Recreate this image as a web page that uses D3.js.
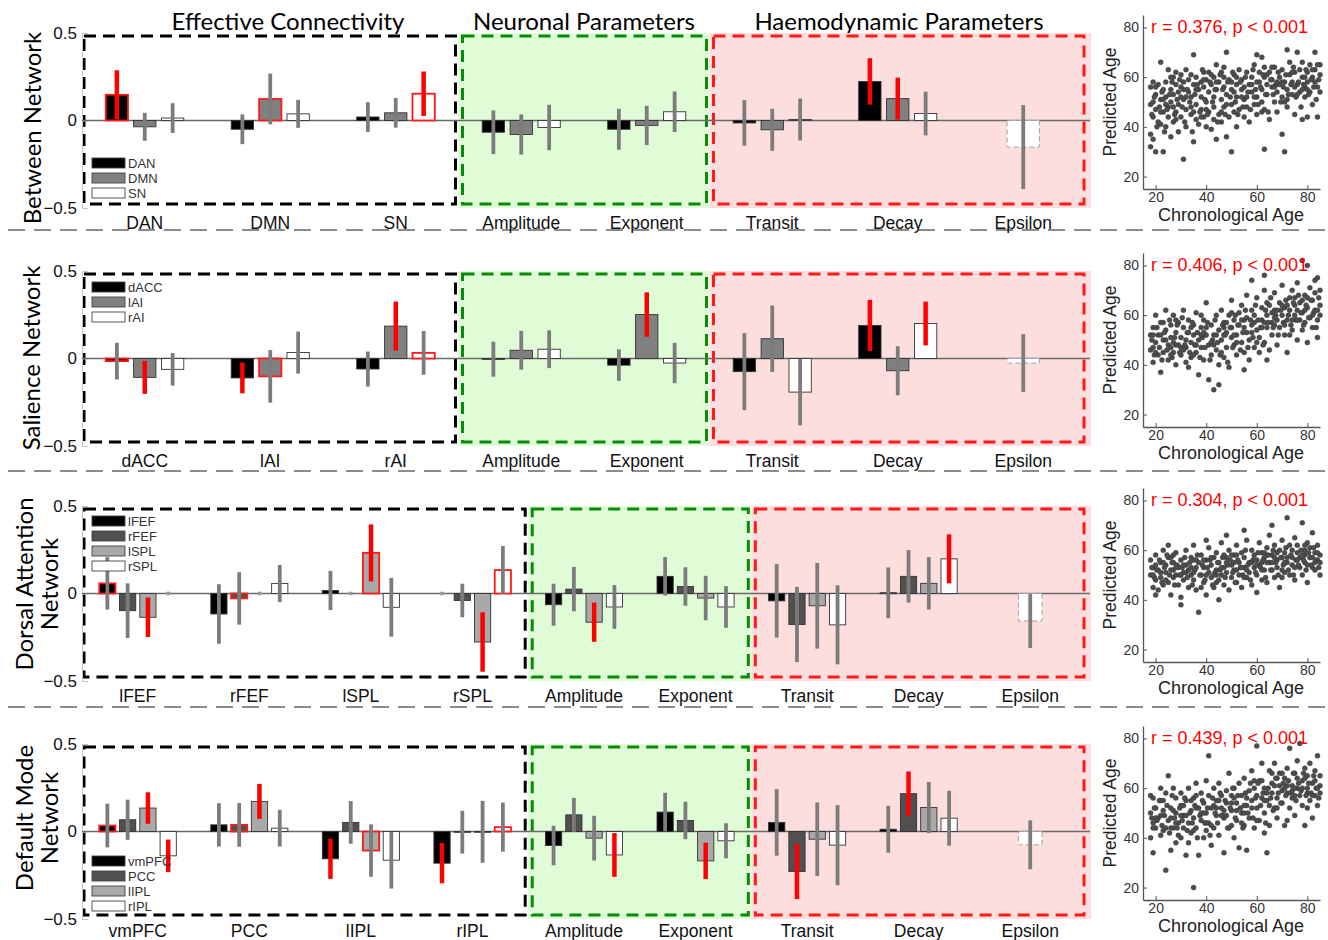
<!DOCTYPE html>
<html>
<head>
<meta charset="utf-8">
<script src="https://cdn.jsdelivr.net/npm/d3@7"></script>
<style>
body { margin: 0; background: #fff; }
svg { display: block; }
</style>
</head>
<body>
<svg id="fig" width="1328" height="940"></svg>
<script>
// ---------- data ----------
const paramGroups = ["Amplitude", "Exponent", "Transit", "Decay", "Epsilon"];

// sig codes: 1 = red outline on bar, 2 = red error bar, 3 = both
const betweenSeries = ["DAN", "DMN", "SN"];
const betweenVals = [
  [0.147, -0.036, 0.014], [-0.05, 0.123, 0.038], [0.02, 0.044, 0.153],
  [-0.067, -0.08, -0.04], [-0.05, -0.028, 0.05], [-0.014, -0.053, 0.006],
  [0.223, 0.125, 0.04], [null, null, -0.152]
];
const betweenErr = [
  [0.14, 0.08, 0.085], [0.085, 0.145, 0.08], [0.085, 0.085, 0.127],
  [0.125, 0.115, 0.13], [0.117, 0.112, 0.116], [0.13, 0.12, 0.12],
  [0.133, 0.12, 0.125], [null, null, 0.24]
];
const betweenSig = [[3,0,0],[0,1,0],[0,0,3],[0,0,0],[0,0,0],[0,0,0],[2,2,0],[0,0,0]];

const salSeries = ["dACC", "lAI", "rAI"];
const salVals = [
  [-0.015, -0.108, -0.062], [-0.111, -0.102, 0.034], [-0.06, 0.185, 0.032],
  [-0.004, 0.047, 0.053], [-0.038, 0.251, -0.026], [-0.075, 0.113, -0.192],
  [0.189, -0.07, 0.2], [null, null, -0.026]
];
const salErr = [
  [0.105, 0.094, 0.093], [0.088, 0.15, 0.12], [0.1, 0.14, 0.125],
  [0.1, 0.111, 0.108], [0.09, 0.127, 0.115], [0.22, 0.19, 0.19],
  [0.146, 0.14, 0.125], [null, null, 0.165]
];
const salSig = [[1,2,0],[2,1,0],[0,2,1],[0,0,0],[0,2,0],[0,0,0],[2,0,2],[0,0,0]];

const datSeries = ["lFEF", "rFEF", "lSPL", "rSPL"];
const datVals = [
  [0.058, -0.098, -0.136, 0], [-0.117, -0.028, 0, 0.057],
  [0.017, 0, 0.232, -0.079], [0, -0.04, -0.277, 0.134],
  [-0.064, 0.025, -0.164, -0.077], [0.098, 0.04, -0.026, -0.077],
  [-0.042, -0.177, -0.07, -0.179], [0.004, 0.098, 0.058, 0.198],
  [null, null, null, -0.157]
];
const datErr = [
  [0.15, 0.156, 0.113, 0], [0.17, 0.15, 0, 0.106],
  [0.112, 0, 0.163, 0.168], [0, 0.096, 0.17, 0.137],
  [0.12, 0.127, 0.112, 0.125], [0.11, 0.11, 0.127, 0.119],
  [0.21, 0.215, 0.245, 0.226], [0.145, 0.15, 0.15, 0.14],
  [null, null, null, 0.155]
];
const datSig = [[1,0,2,0],[0,1,0,0],[0,0,3,0],[0,0,2,1],[0,0,2,0],[0,0,0,0],[0,0,0,0],[0,0,0,2],[0,0,0,0]];

const dmnSeries = ["vmPFC", "PCC", "lIPL", "rIPL"];
const dmnVals = [
  [0.034, 0.067, 0.134, -0.139], [0.038, 0.038, 0.172, 0.019],
  [-0.156, 0.052, -0.109, -0.164], [-0.181, -0.004, -0.002, 0.025],
  [-0.08, 0.095, -0.038, -0.134], [0.111, 0.063, -0.168, -0.053],
  [0.052, -0.229, -0.044, -0.078], [0.013, 0.216, 0.137, 0.076],
  [null, null, null, -0.076]
];
const dmnErr = [
  [0.125, 0.115, 0.09, 0.093], [0.124, 0.125, 0.1, 0.105],
  [0.115, 0.122, 0.15, 0.162], [0.115, 0.122, 0.177, 0.14],
  [0.113, 0.097, 0.128, 0.125], [0.11, 0.107, 0.104, 0.1],
  [0.19, 0.157, 0.21, 0.229], [0.134, 0.127, 0.146, 0.157],
  [null, null, null, 0.14]
];
const dmnSig = [[1,0,2,2],[0,1,2,0],[2,0,1,0],[2,0,0,1],[0,0,0,2],[0,0,2,0],[0,2,0,0],[0,2,0,0],[0,0,0,0]];

const rLabels = ["r = 0.376, p < 0.001", "r = 0.406, p < 0.001", "r = 0.304, p < 0.001", "r = 0.439, p < 0.001"];

// chronological age vs predicted age
const agePts1 = [[18,49],[18,56],[18,37],[18,32],[19,44],[19,50],[19,35],[20,30],[20,53],[20,47],[21,42],[21,57],[22,66],[22,41],[22,51],[23,30],[23,55],[23,46],[24,40],[24,58],[24,52],[25,63],[25,48],[25,44],[26,55],[26,36],[26,50],[27,60],[27,42],[27,53],[28,57],[28,46],[28,62],[29,38],[29,54],[29,49],[30,61],[30,44],[30,56],[31,27],[31,51],[31,58],[32,47],[32,63],[32,40],[33,54],[33,59],[34,45],[34,52],[34,61],[35,69],[35,34],[35,57],[36,49],[36,43],[36,60],[37,55],[37,41],[38,58],[38,47],[38,52],[39,62],[39,44],[39,56],[40,50],[40,59],[40,40],[41,54],[41,46],[41,62],[42,57],[42,39],[43,52],[43,60],[43,48],[44,35],[44,65],[44,55],[45,45],[45,58],[46,51],[46,62],[46,42],[47,56],[47,48],[47,64],[48,36],[48,70],[48,53],[49,44],[49,59],[50,30],[50,55],[50,49],[51,61],[51,46],[52,57],[52,52],[52,40],[53,63],[53,47],[54,55],[54,59],[55,44],[55,51],[56,62],[56,48],[57,57],[57,42],[58,54],[58,60],[59,49],[59,65],[60,69],[60,52],[60,45],[61,58],[61,62],[62,68],[62,50],[62,55],[63,31],[63,60],[63,47],[64,57],[64,53],[65,62],[65,43],[66,56],[66,59],[67,50],[67,64],[68,54],[68,46],[69,60],[69,57],[70,37],[70,52],[70,63],[71,30],[71,58],[72,71],[72,55],[72,48],[73,61],[73,66],[74,53],[74,58],[75,62],[75,45],[76,70],[76,57],[77,54],[77,63],[78,43],[78,60],[78,66],[79,56],[79,52],[80,62],[80,44],[80,58],[81,65],[81,54],[82,60],[82,49],[83,70],[83,63],[84,56],[84,44],[85,61],[85,65],
  [18.5,45],[19.5,52],[20.5,40],[21.5,48],[22.5,54],[23.5,38],[24.5,47],[25.5,53],[26.5,58],[27.5,45],[28.5,51],[29.5,59],[30.5,48],[31.5,42],[32.5,55],[33.5,50],[34.5,38],[35.5,53],[36.5,57],[37.5,46],[38.5,63],[39.5,51],[40.5,45],[41.5,58],[42.5,50],[43.5,55],[44.5,42],[45.5,61],[46.5,55],[47.5,45],[48.5,58],[49.5,52],[50.5,62],[51.5,50],[52.5,45],[53.5,58],[54.5,48],[55.5,60],[56.5,54],[57.5,47],[58.5,63],[59.5,55],[60.5,49],[61.5,56],[62.5,61],[63.5,53],[64.5,46],[65.5,59],[66.5,53],[67.5,57],[68.5,62],[69.5,50],[70.5,56],[71.5,61],[72.5,53],[73.5,57],[74.5,64],[75.5,52],[76.5,58],[77.5,48],[78.5,57],[79.5,63],[80.5,53],[81.5,59],[82.5,56],[83.5,51],[84.5,59],[20,56],[24,49],[28,43],[32,52],[36,55],[40,47],[44,58],[48,49],[52,60],[56,52],[60,58],[64,61],[68,58],[72,51],[76,53],[80,55],[84,65],[22,46],[26,60],[30,52],[34,48],[38,44],[42,61],[46,46],[50,58],[54,52],[58,57],[62,46],[66,64],[70,58],[74,62],[78,55],[82,63],[19,58],[23,51],[27,48],[31,55],[35,46],[39,59],[43,43],[47,60],[51,54],[55,56],[59,52],[63,64],[67,56],[71,50],[75,56],[79,60],[83,58],[85,54]];
const agePts2 = [[18,52],[18,46],[19,41],[19,55],[20,49],[20,60],[21,44],[21,52],[22,37],[22,57],[23,50],[23,45],[24,54],[24,62],[25,42],[25,48],[26,56],[26,51],[27,45],[27,60],[28,53],[28,40],[29,48],[29,57],[30,51],[30,44],[31,55],[31,62],[32,47],[32,41],[33,53],[33,58],[34,49],[34,43],[35,56],[35,52],[36,45],[36,61],[37,36],[37,50],[38,55],[38,47],[39,42],[39,58],[40,52],[40,65],[41,34],[41,48],[42,56],[42,44],[43,30],[43,52],[44,60],[44,46],[45,32],[45,54],[46,50],[46,62],[47,43],[47,57],[48,53],[48,47],[49,60],[49,39],[50,55],[50,66],[51,48],[51,58],[52,44],[52,52],[53,61],[53,56],[54,49],[54,64],[55,45],[55,58],[56,53],[56,68],[57,50],[57,42],[58,62],[58,56],[59,47],[59,60],[60,54],[60,67],[61,51],[61,45],[62,63],[62,58],[63,49],[63,70],[64,55],[64,60],[65,46],[65,64],[66,57],[66,52],[67,62],[67,69],[68,48],[68,58],[69,65],[69,55],[70,60],[70,72],[71,52],[71,63],[72,58],[72,45],[73,67],[73,62],[74,54],[74,70],[75,60],[75,64],[76,50],[76,73],[77,58],[77,65],[78,82],[78,61],[78,54],[79,68],[79,57],[80,80],[80,63],[80,49],[81,71],[81,59],[82,66],[82,55],[83,74],[83,62],[84,75],[84,58],[85,64],[85,70],[19,47],[26,47],[33,39],[45,40],[55,38],[64,42],[73,52],[84,51],[58,74],[63,76],[50,61],[38,60],[28,48],[47,52],[67,56],[76,62],
  [18.5,50],[19.5,44],[20.5,55],[21.5,47],[22.5,42],[23.5,53],[24.5,46],[25.5,58],[26.5,43],[27.5,51],[28.5,56],[29.5,45],[30.5,59],[31.5,48],[32.5,53],[33.5,45],[34.5,57],[35.5,48],[36.5,53],[37.5,43],[38.5,51],[39.5,47],[40.5,57],[41.5,42],[42.5,50],[43.5,58],[44.5,49],[45.5,44],[46.5,56],[47.5,52],[48.5,41],[49.5,55],[50.5,47],[51.5,60],[52.5,56],[53.5,46],[54.5,53],[55.5,62],[56.5,47],[57.5,58],[58.5,51],[59.5,64],[60.5,58],[61.5,55],[62.5,48],[63.5,62],[64.5,57],[65.5,67],[66.5,55],[67.5,60],[68.5,52],[69.5,62],[70.5,57],[71.5,66],[72.5,60],[73.5,56],[74.5,65],[75.5,58],[76.5,68],[77.5,61],[78.5,56],[79.5,64],[80.5,59],[81.5,66],[82.5,61],[83.5,55],[84.5,67],[20,45],[24,50],[28,58],[32,50],[36,48],[40,55],[44,52],[48,57],[52,49],[56,59],[60,49],[64,65],[68,62],[72,64],[76,58],[80,67],[84,62],[22,52],[26,44],[30,47],[34,55],[38,52],[42,49],[46,45],[50,51],[54,58],[58,53],[62,55],[66,61],[70,64],[74,58],[78,66],[82,60],[19,52],[23,57],[27,49],[31,46],[35,44],[39,53],[43,48],[47,55],[51,52],[55,55],[59,57],[63,57],[67,59],[71,56],[75,67],[79,62],[83,69],[85,60]];
const agePts3 = [[18,50],[18,56],[19,45],[19,53],[20,58],[20,48],[21,52],[21,44],[22,55],[22,49],[23,60],[23,46],[24,51],[24,54],[25,47],[25,57],[26,52],[26,42],[27,55],[27,49],[28,50],[28,59],[29,46],[29,53],[30,56],[30,41],[31,51],[31,48],[32,54],[32,60],[33,45],[33,52],[34,57],[34,50],[35,48],[35,62],[36,53],[36,44],[37,35],[37,55],[38,50],[38,58],[39,47],[39,53],[40,56],[40,42],[41,51],[41,61],[42,49],[42,54],[43,57],[43,45],[44,52],[44,59],[45,48],[45,55],[46,63],[46,50],[47,53],[47,46],[48,57],[48,51],[49,44],[49,60],[50,54],[50,49],[51,58],[51,52],[52,47],[52,62],[53,55],[53,50],[54,59],[54,45],[55,53],[55,57],[56,49],[56,64],[57,55],[57,51],[58,60],[58,46],[59,53],[59,58],[60,56],[60,50],[61,63],[61,54],[62,48],[62,59],[63,57],[63,52],[64,61],[64,47],[65,55],[65,66],[66,52],[66,58],[67,49],[67,62],[68,56],[68,53],[69,60],[69,45],[70,57],[70,64],[71,51],[71,59],[72,55],[72,73],[73,62],[73,50],[74,57],[74,54],[75,65],[75,48],[76,59],[76,62],[77,53],[77,57],[78,71],[78,50],[79,60],[79,55],[80,63],[80,47],[81,57],[81,61],[82,53],[82,67],[83,59],[83,52],[84,62],[84,56],[85,58],[85,50],[30,38],[45,40],[60,43],[48,66],[55,68],[40,64],[25,62],[66,70],[20,42],[35,56],[27,52],[44,50],[52,52],[62,55],[70,52],[79,58],
  [18.5,53],[19.5,49],[20.5,52],[21.5,56],[22.5,47],[23.5,53],[24.5,58],[25.5,50],[26.5,55],[27.5,46],[28.5,54],[29.5,50],[30.5,53],[31.5,57],[32.5,49],[33.5,55],[34.5,46],[35.5,52],[36.5,58],[37.5,50],[38.5,54],[39.5,48],[40.5,53],[41.5,56],[42.5,46],[43.5,51],[44.5,55],[45.5,52],[46.5,57],[47.5,49],[48.5,54],[49.5,56],[50.5,51],[51.5,47],[52.5,56],[53.5,53],[54.5,50],[55.5,60],[56.5,54],[57.5,48],[58.5,56],[59.5,51],[60.5,59],[61.5,53],[62.5,56],[63.5,49],[64.5,58],[65.5,52],[66.5,60],[67.5,55],[68.5,50],[69.5,57],[70.5,54],[71.5,61],[72.5,52],[73.5,58],[74.5,50],[75.5,56],[76.5,54],[77.5,60],[78.5,56],[79.5,52],[80.5,59],[81.5,54],[82.5,61],[83.5,56],[84.5,53],[20,54],[24,48],[28,53],[32,51],[36,56],[40,50],[44,47],[48,55],[52,58],[56,52],[60,54],[64,55],[68,59],[72,57],[76,56],[80,54],[84,59],[22,51],[26,57],[30,50],[34,53],[38,45],[42,57],[46,53],[50,58],[54,53],[58,55],[62,52],[66,55],[70,49],[74,60],[78,58],[82,57],[19,50],[23,55],[27,58],[31,54],[35,51],[39,56],[43,50],[47,58],[51,55],[55,49],[59,56],[63,59],[67,57],[71,55],[75,53],[79,62],[83,55],[85,55]];
const agePts4 = [[18,57],[18,50],[18,40],[19,46],[19,34],[19,56],[20,52],[20,44],[21,48],[22,41],[22,55],[23,43],[23,51],[24,27],[24,58],[25,65],[25,47],[26,35],[26,52],[27,44],[27,60],[28,38],[28,50],[28,56],[29,46],[29,41],[30,53],[30,58],[31,44],[31,49],[32,33],[32,55],[33,60],[33,46],[34,51],[34,42],[35,20],[35,56],[35,48],[36,44],[36,62],[37,33],[37,52],[38,47],[38,58],[39,40],[39,54],[40,50],[40,63],[41,73],[41,46],[41,57],[42,37],[42,52],[43,60],[43,44],[44,55],[44,49],[45,41],[45,62],[46,52],[46,57],[47,34],[47,48],[48,59],[48,54],[49,44],[49,66],[50,51],[50,57],[51,40],[51,60],[52,54],[52,47],[53,62],[53,36],[54,50],[54,57],[55,45],[55,64],[56,53],[56,35],[57,59],[57,48],[58,67],[58,55],[59,44],[59,60],[60,77],[60,52],[60,57],[61,63],[61,47],[62,56],[62,70],[63,50],[63,60],[64,34],[64,55],[65,67],[65,45],[66,58],[66,62],[67,52],[67,70],[68,56],[68,48],[69,61],[69,66],[70,54],[70,59],[71,45],[71,64],[72,58],[72,68],[73,76],[73,52],[74,61],[74,56],[75,66],[75,49],[76,60],[76,71],[77,78],[77,57],[78,63],[78,53],[79,68],[79,45],[80,60],[80,65],[81,55],[81,70],[82,62],[82,48],[83,57],[83,67],[84,73],[84,53],[85,61],[85,65],[30,40],[40,43],[50,45],[63,42],[72,47],[26,48],[36,52],[45,55],[55,50],[65,53],[75,57],[22,60],[33,38],[68,64],[80,58],
  [18.5,48],[19.5,52],[20.5,47],[21.5,55],[22.5,45],[23.5,49],[24.5,53],[25.5,42],[26.5,57],[27.5,48],[28.5,44],[29.5,52],[30.5,47],[31.5,56],[32.5,43],[33.5,50],[34.5,46],[35.5,53],[36.5,40],[37.5,49],[38.5,55],[39.5,46],[40.5,52],[41.5,41],[42.5,56],[43.5,50],[44.5,46],[45.5,58],[46.5,49],[47.5,55],[48.5,44],[49.5,52],[50.5,60],[51.5,48],[52.5,57],[53.5,52],[54.5,44],[55.5,58],[56.5,50],[57.5,62],[58.5,48],[59.5,56],[60.5,62],[61.5,53],[62.5,58],[63.5,46],[64.5,60],[65.5,56],[66.5,51],[67.5,64],[68.5,58],[69.5,54],[70.5,62],[71.5,57],[72.5,63],[73.5,58],[74.5,66],[75.5,55],[76.5,62],[77.5,59],[78.5,66],[79.5,57],[80.5,62],[81.5,58],[82.5,65],[83.5,60],[84.5,56],[20,48],[24,44],[28,46],[32,49],[36,57],[40,46],[44,52],[48,49],[52,51],[56,56],[60,47],[64,58],[68,52],[72,61],[76,64],[80,52],[84,60],[22,49],[26,44],[30,49],[34,55],[38,50],[42,45],[46,49],[50,54],[54,46],[58,52],[62,63],[66,66],[70,66],[74,59],[78,60],[82,57],[19,44],[23,55],[27,51],[31,53],[35,43],[39,50],[43,53],[47,51],[51,56],[55,53],[59,63],[63,55],[67,61],[71,60],[75,60],[79,64],[83,63],[85,58]];

// ---------- layout ----------
let svg = d3.select("#fig");
let axisLeft = 82, axisRight = 1086, rowH = 175;
let rowTop = [33, 271, 506, 744];
let sepY = [230, 471, 707];
let shades3 = ["#000000", "#808080", "#ffffff"];
let shades4 = ["#000000", "#505050", "#a9a9a9", "#ffffff"];
let labelFont = "'Liberation Sans', Arial, sans-serif";
let titleFont = "Lato, 'Open Sans', sans-serif";

let rows = [
  {series: betweenSeries, vals: betweenVals, err: betweenErr, sig: betweenSig, colors: shades3,
   title: ["Between Network"], titleX: [41], titleY: 128, legendY: 125, pts: agePts1},
  {series: salSeries, vals: salVals, err: salErr, sig: salSig, colors: shades3,
   title: ["Salience Network"], titleX: [40], titleY: 358, legendY: 11, pts: agePts2},
  {series: datSeries, vals: datVals, err: datErr, sig: datSig, colors: shades4,
   title: ["Dorsal Attention", "Network"], titleX: [33, 58], titleY: 584, legendY: 10, pts: agePts3},
  {series: dmnSeries, vals: dmnVals, err: dmnErr, sig: dmnSig, colors: shades4,
   title: ["Default Mode", "Network"], titleX: [33, 58], titleY: 818, legendY: 112, pts: agePts4}
];

//column titles
let colTitles = [["Effective Connectivity", 288], ["Neuronal Parameters", 584], ["Haemodynamic Parameters", 899]];
svg.selectAll(".coltitle").data(colTitles).join("text")
  .attr("x", d => d[1]).attr("y", 30)
  .attr("text-anchor", "middle")
  .style("font-family", titleFont).style("font-size", "24px")
  .text(d => d[0]);

//row separators
svg.selectAll(".sep").data(sepY).join("line")
  .attr("x1", 8).attr("x2", 1328).attr("y1", d => d).attr("y2", d => d)
  .attr("stroke", "#8c8c8c").attr("stroke-width", 2).attr("stroke-dasharray", "17,9");

function drawRow(row, ri) {
  let top = rowTop[ri];
  let g = svg.append("g");
  let groups = row.series.concat(paramGroups);
  let n = row.series.length;

  let y = d3.scaleLinear([-0.5, 0.5], [top + rowH, top]);
  let x0 = d3.scaleBand(groups, [axisLeft, axisRight]);
  let gw = x0.bandwidth() * Math.min(0.8, n / (n + 1.5));
  let x1 = d3.scaleBand(row.series, [-gw / 2, gw / 2]).paddingInner(0.2).paddingOuter(0.1);

  let ecEnd = x0(paramGroups[0]);
  let neuroEnd = x0(paramGroups[2]);

  //shaded regions
  g.append("rect").attr("x", ecEnd).attr("y", top).attr("width", neuroEnd - ecEnd).attr("height", rowH)
    .attr("fill", "#dffcd6");
  g.append("rect").attr("x", neuroEnd).attr("y", top).attr("width", axisRight + 5 - neuroEnd).attr("height", rowH)
    .attr("fill", "#fddede");

  //dashed boxes
  let boxes = [
    [axisLeft + 2, ecEnd - 3, "#000000"],
    [ecEnd + 4, neuroEnd - 3, "#0a8a0a"],
    [neuroEnd + 4, axisRight - 2, "#ff1a1a"]
  ];
  g.selectAll(".box").data(boxes).join("rect")
    .attr("x", d => d[0]).attr("y", top + 3)
    .attr("width", d => d[1] - d[0]).attr("height", rowH - 7)
    .attr("fill", "none").attr("stroke", d => d[2])
    .attr("stroke-width", 3).attr("stroke-dasharray", "12,7");

  //y axis
  let yAxis = d3.axisLeft(y).tickValues([-0.5, 0, 0.5])
    .tickFormat(d => d === 0 ? "0" : (d < 0 ? "\u22120.5" : "0.5"))
    .tickSizeInner(-6).tickSizeOuter(0).tickPadding(5);
  let ya = g.append("g").attr("transform", `translate(${axisLeft},0)`).call(yAxis);
  ya.select(".domain").attr("stroke", "#c4c4c4");
  ya.selectAll(".tick line").attr("stroke", "#c4c4c4");
  ya.selectAll("text").style("font-family", labelFont).style("font-size", "17px").attr("fill", "#111");

  //zero line
  g.append("line").attr("x1", axisLeft).attr("x2", axisRight + 4)
    .attr("y1", y(0)).attr("y2", y(0)).attr("stroke", "#6a6a6a").attr("stroke-width", 1.5);

  //flatten bars
  let bars = [];
  groups.forEach((grp, i) => {
    row.series.forEach((s, j) => {
      let v = row.vals[i][j];
      if (v === null) return;
      let eps = grp === "Epsilon";
      let w = eps ? x1.bandwidth() * 1.45 : x1.bandwidth();
      let cx = x0(grp) + x0.bandwidth() / 2 + (eps ? 0 : x1(s) + x1.bandwidth() / 2);
      bars.push({v: v, e: row.err[i][j], sig: row.sig[i][j], color: row.colors[j], cx: cx, w: w, eps: eps});
    });
  });

  let real = bars.filter(d => !(d.v === 0 && d.e === 0));
  g.selectAll(".bar").data(real).join("rect")
    .attr("x", d => d.cx - d.w / 2)
    .attr("y", d => y(Math.max(d.v, 0)))
    .attr("width", d => d.w)
    .attr("height", d => Math.max(Math.abs(y(d.v) - y(0)), 0.8))
    .attr("fill", d => d.color)
    .attr("stroke", d => d.eps ? "#9a9a9a" : (d.sig & 1 ? "#ff1a1a" : "#333"))
    .attr("stroke-width", d => d.sig & 1 ? 1.8 : 0.9)
    .attr("stroke-dasharray", d => d.eps ? "5,3" : null);

  g.selectAll(".err").data(real).join("line")
    .attr("x1", d => d.cx).attr("x2", d => d.cx)
    .attr("y1", d => y(d.v + d.e)).attr("y2", d => y(d.v - d.e))
    .attr("stroke", d => d.sig & 2 ? "#ff0000" : "#7c7c7c")
    .attr("stroke-width", d => d.sig & 2 ? 4.5 : 3.8);

  //self connections: only a tiny mark at zero
  g.selectAll(".self").data(bars.filter(d => d.v === 0 && d.e === 0)).join("line")
    .attr("x1", d => d.cx).attr("x2", d => d.cx)
    .attr("y1", y(0) - 1.8).attr("y2", y(0) + 1.8)
    .attr("stroke", "#9a9a9a").attr("stroke-width", 3.5);

  //category labels
  g.selectAll(".cat").data(groups).join("text")
    .attr("x", d => x0(d) + x0.bandwidth() / 2).attr("y", Math.min(top + rowH + 21, 937))
    .attr("text-anchor", "middle")
    .style("font-family", labelFont).style("font-size", "17.5px").attr("fill", "#111")
    .text(d => d);

  //legend
  let leg = g.selectAll(".leg").data(row.series).join("g")
    .attr("transform", (d, j) => `translate(92,${top + row.legendY + j * 15})`);
  leg.append("rect").attr("width", 33).attr("height", 10)
    .attr("fill", (d, j) => row.colors[j]).attr("stroke", "#444").attr("stroke-width", 0.9);
  leg.append("text").attr("x", 36).attr("y", 9.5)
    .style("font-family", labelFont).style("font-size", "13px").attr("fill", "#333")
    .text(d => d);

  //row title
  row.title.forEach((t, k) => {
    g.append("text")
      .attr("transform", `translate(${row.titleX[k]},${row.titleY}) rotate(-90)`)
      .attr("text-anchor", "middle")
      .style("font-family", titleFont).style("font-size", "24px")
      .text(t);
  });
}

function drawScatter(row, ri) {
  let o = rowTop[ri] - rowTop[0];
  let g = svg.append("g");
  let sx = d3.scaleLinear([15, 85], [1143, 1320]);
  let sy = d3.scaleLinear([15, 85], [o + 189, o + 15]);

  g.selectAll("circle").data(row.pts).join("circle")
    .attr("cx", d => sx(d[0])).attr("cy", d => sy(d[1]))
    .attr("r", 2.5).attr("fill", "#4d4d4d").attr("stroke", "#333").attr("stroke-width", 0.4);

  let xa = g.append("g").attr("transform", `translate(0,${o + 189})`)
    .call(d3.axisBottom(sx).tickValues([20, 40, 60, 80]).tickSizeInner(-4).tickSizeOuter(0).tickPadding(3));
  let yaS = g.append("g").attr("transform", "translate(1143,0)")
    .call(d3.axisLeft(sy).tickValues([20, 40, 60, 80]).tickSizeInner(-4).tickSizeOuter(0).tickPadding(4));
  [xa, yaS].forEach(a => {
    a.select(".domain").attr("stroke", "#555").attr("stroke-width", 1.3);
    a.selectAll(".tick line").attr("stroke", "#555");
    a.selectAll("text").style("font-family", labelFont).style("font-size", "14px").attr("fill", "#333");
  });

  g.append("text").attr("x", 1231).attr("y", o + 221).attr("text-anchor", "middle")
    .style("font-family", labelFont).style("font-size", "18px").attr("fill", "#222")
    .text("Chronological Age");
  g.append("text").attr("transform", `translate(1116,${o + 102}) rotate(-90)`).attr("text-anchor", "middle")
    .style("font-family", labelFont).style("font-size", "17.5px").attr("fill", "#222")
    .text("Predicted Age");
  g.append("text").attr("x", 1151).attr("y", o + 33)
    .style("font-family", labelFont).style("font-size", "18px").attr("fill", "#ff0000")
    .text(rLabels[ri]);
}

rows.forEach((row, ri) => {
  drawRow(row, ri);
  drawScatter(row, ri);
});
</script>
</body>
</html>
